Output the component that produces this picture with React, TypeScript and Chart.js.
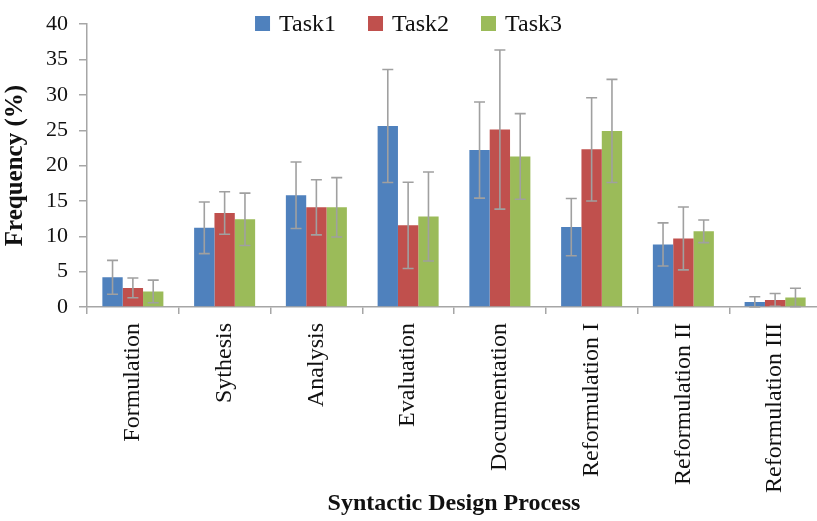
import React, { useEffect, useRef } from 'react';
import { Chart, registerables } from 'chart.js';

Chart.register(...registerables);

const categories = [
  'Formulation',
  'Sythesis',
  'Analysis',
  'Evaluation',
  'Documentation',
  'Reformulation I',
  'Reformulation II',
  'Reformulation III',
];
const seriesNames = ['Task1', 'Task2', 'Task3'];
const task1 = [4.2, 11.2, 15.8, 25.6, 22.2, 11.3, 8.85, 0.7];
const task1Err = [2.4, 3.65, 4.7, 8.0, 6.8, 4.05, 3.05, 0.75];
const task2 = [2.7, 13.3, 14.1, 11.55, 25.1, 22.3, 9.7, 1.0];
const task2Err = [1.4, 3.0, 3.9, 6.1, 11.25, 7.3, 4.45, 0.9];
const task3 = [2.2, 12.4, 14.1, 12.8, 21.3, 24.9, 10.7, 1.35];
const task3Err = [1.6, 3.7, 4.2, 6.3, 6.05, 7.3, 1.6, 1.3];
const yMin = 0;
const yMax = 40;
const yStep = 5;

const colors = ['#4F81BD', '#C0504D', '#9BBB59'];
const FONT = '"Liberation Serif", "Times New Roman", serif';
const TEXT = '#111111';
const AXIS = '#A6A6A6';
const ERR = '#A0A0A0';

const errorBarPlugin = {
  id: 'errorBars',
  afterDatasetsDraw(chart: any) {
    const ctx = chart.ctx;
    const y = chart.scales.y;
    chart.data.datasets.forEach((ds: any, di: number) => {
      const meta = chart.getDatasetMeta(di);
      meta.data.forEach((bar: any, i: number) => {
        const v = ds.data[i];
        const e = ds.errors[i];
        const top = y.getPixelForValue(v + e);
        const bot = y.getPixelForValue(Math.max(0, v - e));
        const cap = 5.5;
        ctx.save();
        ctx.strokeStyle = ERR;
        ctx.lineWidth = 1.6;
        ctx.beginPath();
        ctx.moveTo(bar.x, top);
        ctx.lineTo(bar.x, bot);
        ctx.moveTo(bar.x - cap, top);
        ctx.lineTo(bar.x + cap, top);
        ctx.moveTo(bar.x - cap, bot);
        ctx.lineTo(bar.x + cap, bot);
        ctx.stroke();
        ctx.restore();
      });
    });
  },
};

const legendPlugin = {
  id: 'insideLegend',
  afterDraw(chart: any) {
    const ctx = chart.ctx;
    ctx.save();
    ctx.font = `24px ${FONT}`;
    const box = 15;
    const gapText = 9;
    const gapItem = 32;
    const items = chart.data.datasets.map((ds: any) => ({
      label: ds.label,
      color: ds.backgroundColor,
      w: box + gapText + ctx.measureText(ds.label).width,
    }));
    const total =
      items.reduce((s: number, it: any) => s + it.w, 0) + gapItem * (items.length - 1);
    let x = 408.5 - total / 2;
    const cy = 23.5;
    items.forEach((it: any) => {
      ctx.fillStyle = it.color;
      ctx.fillRect(x, cy - box / 2, box, box);
      ctx.fillStyle = TEXT;
      ctx.textBaseline = 'middle';
      ctx.textAlign = 'left';
      ctx.fillText(it.label, x + box + gapText, cy + 1);
      x += it.w + gapItem;
    });
    ctx.restore();
  },
};

export default function App() {
  const ref = useRef<HTMLCanvasElement | null>(null);

  useEffect(() => {
    document.body.style.margin = '0';
    if (!ref.current) return;
    const values = [task1, task2, task3];
    const errs = [task1Err, task2Err, task3Err];
    const chart = new Chart(ref.current, {
      type: 'bar',
      data: {
        labels: categories,
        datasets: seriesNames.map((name, i) => ({
          label: name,
          data: values[i],
          errors: errs[i],
          backgroundColor: colors[i],
          borderWidth: 0,
          categoryPercentage: 0.665,
          barPercentage: 1.0,
        })) as any,
      },
      options: {
        responsive: false,
        animation: false,
        devicePixelRatio: 1,
        layout: { padding: { top: 14, right: 0, left: 0, bottom: 0 } },
        plugins: {
          legend: { display: false },
          tooltip: { enabled: false },
        },
        scales: {
          x: {
            grid: {
              display: true,
              drawOnChartArea: false,
              drawTicks: true,
              tickLength: 7,
              color: AXIS,
              lineWidth: 1.5,
              offset: true,
            },
            border: { display: true, color: AXIS, width: 1.5 },
            ticks: {
              color: TEXT,
              font: { family: FONT, size: 24 },
              maxRotation: 90,
              minRotation: 90,
              padding: 9,
              autoSkip: false,
            },
            title: {
              display: true,
              text: 'Syntactic Design Process',
              color: TEXT,
              font: { family: FONT, size: 24, weight: 'bold' },
              padding: { top: 4, bottom: 3 },
            },
            afterFit: (s: any) => {
              s.height = 214;
            },
          },
          y: {
            min: yMin,
            max: yMax,
            grid: {
              display: true,
              drawOnChartArea: false,
              drawTicks: true,
              tickLength: 8,
              color: AXIS,
              lineWidth: 1.5,
            },
            border: { display: true, color: AXIS, width: 1.5 },
            ticks: {
              stepSize: yStep,
              color: TEXT,
              font: { family: FONT, size: 22 },
              padding: 11,
            },
            title: {
              display: true,
              text: 'Frequency (%)',
              color: TEXT,
              font: { family: FONT, size: 25, weight: 'bold' },
              padding: { top: 1, bottom: 4 },
            },
            afterFit: (s: any) => {
              s.width = 87;
            },
          },
        },
      } as any,
      plugins: [errorBarPlugin, legendPlugin],
    });
    return () => chart.destroy();
  }, []);

  return (
    <div style={{ width: 817, height: 521, overflow: 'hidden' }}>
      <canvas ref={ref} width={821} height={521} style={{ display: 'block' }} />
    </div>
  );
}
